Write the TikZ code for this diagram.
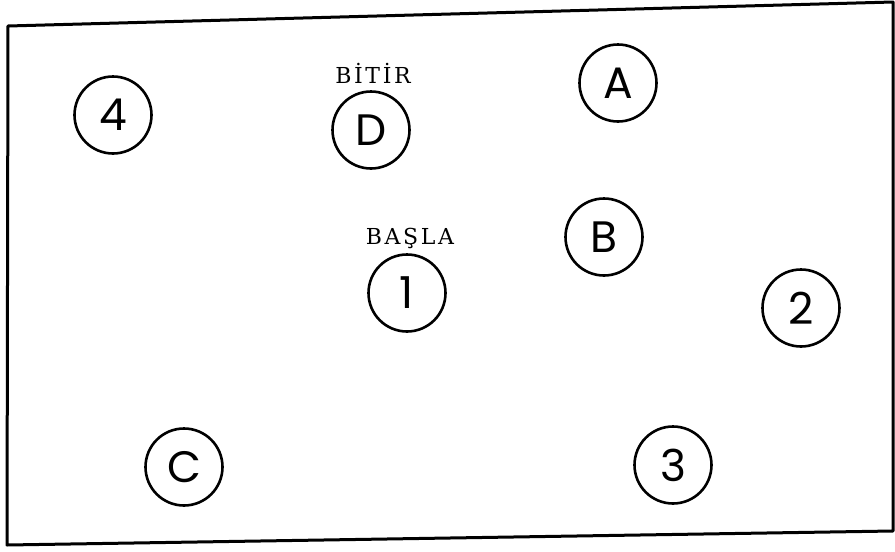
\documentclass[tikz,border=0pt]{standalone}
\usepackage{fontspec}
\newfontfamily\lettfont{Poppins}
\newfontfamily\labfont[LetterSpace=12]{DejaVu Serif}
\begin{document}
\begin{tikzpicture}[x=1pt,y=-1pt,
  st/.style={circle,draw,line width=2.6pt,minimum size=77pt,inner sep=0pt,
    font=\lettfont\fontsize{44}{44}\selectfont},
  lab/.style={font=\labfont\fontsize{22}{22}\selectfont,inner sep=0pt,anchor=base}]
\useasboundingbox (0,0) rectangle (895,552);
\fill[white] (0,0) rectangle (895,552);
\draw[line width=3pt,line join=round] (8,26) -- (893,2) -- (893,531) -- (7,545) -- cycle;
\node[st] (n4) at (113,115) {4};
\node[st] (nD) at (371,130) {D};
\node[st] (nA) at (618,83) {A};
\node[st] (nB) at (604,237) {B};
\node[st] (n1) at (407,293) {1};
\node[st] (n2) at (801,308) {2};
\node[st] (nC) at (184,467) {C};
\node[st] (n3) at (673,465) {3};
\node[lab] (bitir) at (373,83) {BİTİR};
\node[lab] (basla) at (410,244) {BAŞLA};
\end{tikzpicture}
\end{document}
